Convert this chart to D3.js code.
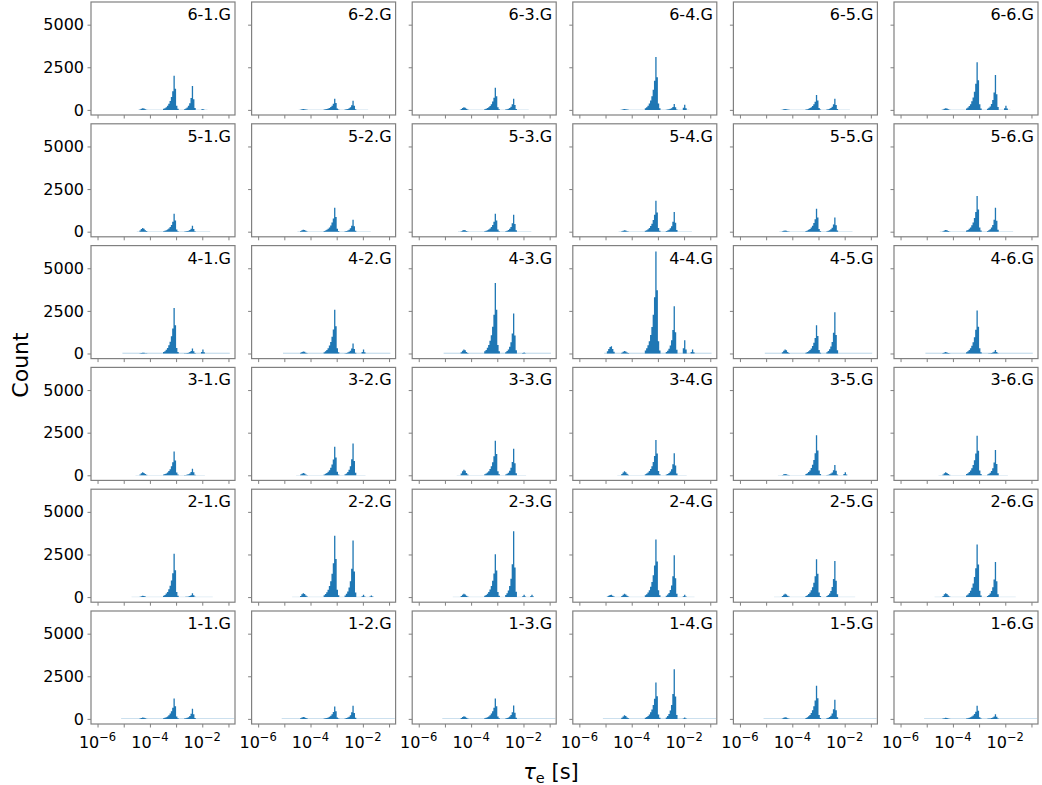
<!DOCTYPE html>
<html>
<head>
<meta charset="utf-8">
<script src="https://cdn.jsdelivr.net/npm/d3@7"></script>
<style>
  body { margin: 0; background: #fff; }
  text { font-family: "DejaVu Sans", sans-serif; }
</style>
</head>
<body>
<svg id="chart" width="1042" height="785"></svg>
<script>
// histogram bins: left edge as log10(tau_e / s), every bin 0.05 decade wide
var binLeft = [-4.95,-4.9,-4.85,-4.8,-4.75,-4.7,
  -4.4,-4.35,-4.3,-4.25,-4.2,-4.15,
  -3.5,-3.45,-3.4,-3.35,-3.3,-3.25,-3.2,-3.15,-3.1,-3.05,-3.0,-2.95,
  -2.7,-2.65,-2.6,-2.55,-2.5,-2.45,-2.4,-2.35,-2.3,
  -2.05,-2.0,-1.95,
  -1.75,-1.7,-1.65];
var binWidth = 0.05;

// counts per panel, one list per row of the grid (top row first)
var row6 = [
  [0,0,0,0,0,0, 30,70,100,80,40,15, 60,100,160,240,360,520,760,1100,2000,1240,240,60, 42,84,140,238,392,700,1400,630,112, 20,50,15, 0,0,0],
  [0,0,0,0,0,0, 15,35,50,40,20,8, 20,33,52,78,117,169,247,358,650,403,78,20, 16,32,53,90,148,265,530,239,42, 0,0,0, 0,0,0],
  [0,0,0,0,0,0, 45,105,150,120,60,23, 39,65,104,156,234,338,494,715,1300,806,156,39, 20,39,65,111,182,325,650,293,52, 0,0,0, 0,0,0],
  [0,0,0,0,0,0, 15,35,50,40,20,8, 93,155,248,372,558,806,1178,1705,3100,1922,372,93, 11,21,35,60,98,175,350,158,28, 120,300,90, 0,0,0],
  [0,0,0,0,0,0, 15,35,50,40,20,8, 26,44,70,106,158,229,334,484,880,546,106,26, 20,39,65,111,182,325,650,293,52, 0,0,0, 0,0,0],
  [0,0,0,0,0,0, 30,70,100,80,40,15, 84,140,224,336,504,728,1064,1540,2800,1736,336,84, 62,123,205,349,574,1025,2050,923,164, 100,250,75, 0,0,0]
];
var row5 = [
  [0,0,0,0,0,0, 66,154,220,176,88,33, 32,53,84,126,189,273,399,578,1050,651,126,32, 11,21,35,60,98,175,350,158,28, 0,0,0, 0,0,0],
  [0,0,0,0,0,0, 36,84,120,96,48,18, 42,70,112,168,252,364,532,770,1400,868,168,42, 21,42,70,119,196,350,700,315,56, 0,0,0, 0,0,0],
  [0,0,0,0,0,0, 30,70,100,80,40,15, 32,53,84,126,189,273,399,578,1050,651,126,32, 30,60,100,170,280,500,1000,450,80, 0,0,0, 0,0,0],
  [0,0,0,0,0,0, 24,56,80,64,32,12, 55,91,146,218,328,473,692,1001,1820,1128,218,55, 35,70,116,197,325,580,1160,522,93, 0,0,0, 0,0,0],
  [0,0,0,0,0,0, 21,49,70,56,28,11, 40,67,107,161,241,348,509,737,1340,831,161,40, 25,50,83,141,232,415,830,374,66, 0,0,0, 0,0,0],
  [0,0,0,0,0,0, 30,70,100,80,40,15, 63,105,168,252,378,546,798,1155,2100,1302,252,63, 42,85,141,240,395,705,1410,635,113, 0,0,0, 0,0,0]
];
var row4 = [
  [0,0,0,0,0,0, 15,35,50,40,20,8, 80,134,214,320,481,694,1015,1469,2670,1655,320,80, 9,17,29,49,81,145,290,131,23, 92,230,69, 0,0,0],
  [0,0,0,0,0,0, 36,84,120,96,48,18, 77,129,206,308,463,668,977,1414,2570,1593,308,77, 17,35,58,99,162,290,580,261,46, 92,230,69, 0,0,0],
  [0,0,0,0,0,0, 69,161,230,184,92,35, 124,207,330,496,743,1074,1569,2272,4130,2561,496,124, 70,140,234,398,655,1170,2340,1053,187, 24,60,18, 0,0,0],
  [129,258,387,430,258,108, 45,105,150,120,60,23, 180,300,479,719,1078,1557,2276,3295,5990,3714,719,180, 83,166,277,471,776,1385,2770,1247,222, 312,780,234, 92,230,69],
  [0,0,0,0,0,0, 69,161,230,184,92,35, 50,83,133,199,299,432,631,913,1660,1029,199,50, 73,145,242,411,678,1210,2420,1089,194, 0,0,0, 0,0,0],
  [0,0,0,0,0,0, 24,56,80,64,32,12, 76,126,202,302,454,655,958,1386,2520,1562,302,76, 6,12,20,34,56,100,200,90,16, 0,0,0, 0,0,0]
];
var row3 = [
  [0,0,0,0,0,0, 53,123,175,140,70,26, 42,70,111,167,250,361,528,765,1390,862,167,42, 12,23,39,65,108,193,385,173,31, 0,0,0, 0,0,0],
  [0,0,0,0,0,0, 39,91,130,104,52,20, 50,84,134,202,302,437,638,924,1680,1042,202,50, 56,112,187,318,524,935,1870,842,150, 0,0,0, 0,0,0],
  [0,0,0,0,0,0, 99,231,330,264,132,50, 61,101,162,243,365,527,770,1114,2025,1256,243,61, 47,94,156,265,437,780,1560,702,125, 0,0,0, 0,0,0],
  [0,0,0,0,0,0, 69,161,230,184,92,35, 62,103,165,248,372,537,785,1136,2065,1280,248,62, 39,77,129,219,361,645,1290,581,103, 0,0,0, 0,0,0],
  [0,0,0,0,0,0, 24,56,80,64,32,12, 71,118,188,282,423,611,893,1293,2350,1457,282,71, 18,36,60,102,168,300,600,270,48, 70,175,53, 0,0,0],
  [0,0,0,0,0,0, 53,123,175,140,70,26, 70,116,186,278,418,603,882,1276,2320,1438,278,70, 45,89,149,252,416,743,1485,668,119, 0,0,0, 0,0,0]
];
var row2 = [
  [0,0,0,0,0,0, 24,56,80,64,32,12, 76,127,204,305,458,662,967,1400,2545,1578,305,76, 7,14,23,39,64,115,230,104,18, 0,0,0, 0,0,0],
  [0,0,0,0,0,0, 69,161,230,184,92,35, 108,180,288,432,648,936,1368,1980,3600,2232,432,108, 100,199,332,564,930,1660,3320,1494,266, 54,135,41, 40,100,30],
  [0,0,0,0,0,0, 57,133,190,152,76,29, 75,126,201,301,452,653,954,1381,2510,1556,301,75, 116,232,386,656,1081,1930,3860,1737,309, 54,135,41, 54,135,41],
  [41,81,122,135,81,34, 57,133,190,152,76,29, 101,169,270,405,608,878,1283,1856,3375,2093,405,101, 74,147,245,417,686,1225,2450,1103,196, 54,135,41, 0,0,0],
  [0,0,0,0,0,0, 57,133,190,152,76,29, 67,111,178,266,400,577,844,1221,2220,1376,266,67, 64,127,212,360,594,1060,2120,954,170, 0,0,0, 0,0,0],
  [0,0,0,0,0,0, 69,161,230,184,92,35, 93,154,247,370,555,802,1172,1697,3085,1913,370,93, 62,124,206,350,577,1030,2060,927,165, 0,0,0, 0,0,0]
];
var row1 = [
  [0,0,0,0,0,0, 24,56,80,64,32,12, 36,60,96,143,215,311,454,657,1195,741,143,36, 18,36,60,102,168,300,600,270,48, 0,0,0, 0,0,0],
  [0,0,0,0,0,0, 35,81,115,92,46,17, 22,37,58,88,131,190,277,402,730,453,88,22, 23,46,77,131,216,385,770,347,62, 0,0,0, 0,0,0],
  [0,0,0,0,0,0, 45,105,150,120,60,23, 36,60,96,143,215,311,454,657,1195,741,143,36, 24,47,79,134,221,395,790,356,63, 0,0,0, 0,0,0],
  [0,0,0,0,0,0, 63,147,210,168,84,32, 64,107,171,257,385,556,813,1177,2140,1327,257,64, 87,175,291,495,815,1455,2910,1310,233, 30,75,23, 0,0,0],
  [0,0,0,0,0,0, 29,67,95,76,38,14, 59,98,156,234,351,507,741,1073,1950,1209,234,59, 34,67,112,190,314,560,1120,504,90, 0,0,0, 0,0,0],
  [0,0,0,0,0,0, 18,42,60,48,24,9, 23,39,62,92,139,200,293,424,770,477,92,23, 8,16,27,46,76,135,270,122,22, 0,0,0, 0,0,0]
];
var rows = [row6, row5, row4, row3, row2, row1];
var rowNames = ["6", "5", "4", "3", "2", "1"];
var colNames = ["1", "2", "3", "4", "5", "6"];

// low-count floor of every row: [from log10, to log10, count]
var baseline = [[-4.45,-1.8,15], [-4.5,-1.7,20], [-5.05,-0.95,40], [-4.55,-1.9,15], [-4.7,-1.6,15], [-5.1,-0.78,30]];

var yTicks = [0, 2500, 5000];
var xTicks = [1e-6, 1e-5, 1e-4, 1e-3, 1e-2, 1e-1];

var W = 144, H = 113, left0 = 91, top0 = 2, stepX = 160.6, stepY = 121.8;
var blue = "#1f77b4", spine = "#808080";

var svg = d3.select("#chart");
var x = d3.scaleLog().domain([Math.pow(10, -6.25), Math.pow(10, -0.75)]).range([0, W]);
var y = d3.scaleLinear().domain([-300, 6330]).range([H, 0]);

rows.forEach(function(row, r) {
  row.forEach(function(counts, c) {
    var g = svg.append("g")
      .attr("transform", "translate(" + (left0 + c * stepX) + "," + (top0 + r * stepY) + ")");

    // floor
    var b = baseline[r];
    g.append("rect")
      .attr("x", x(Math.pow(10, b[0])))
      .attr("width", x(Math.pow(10, b[1])) - x(Math.pow(10, b[0])))
      .attr("y", y(b[2]))
      .attr("height", y(0) - y(b[2]))
      .attr("fill", blue)
      .attr("opacity", 0.45);

    // bars as one path, so neighbours do not show seams
    var p = d3.path();
    counts.forEach(function(v, i) {
      if (!v) return;
      var x0 = x(Math.pow(10, binLeft[i])), x1 = x(Math.pow(10, binLeft[i] + binWidth));
      p.moveTo(x0, y(0));
      p.lineTo(x0, y(v));
      p.lineTo(x1, y(v));
      p.lineTo(x1, y(0));
      p.closePath();
    });
    g.append("path").attr("d", p.toString()).attr("fill", blue);

    // axes
    var ya = d3.axisLeft(y).tickValues(yTicks).tickSize(3.5).tickPadding(3.5)
      .tickFormat(c === 0 ? d3.format("d") : function() { return ""; });
    var yg = g.append("g").call(ya);
    var xa = d3.axisBottom(x).tickValues(xTicks).tickSize(3.5).tickFormat(function() { return ""; });
    var xg = g.append("g").attr("transform", "translate(0," + H + ")").call(xa);
    [yg, xg].forEach(function(a) {
      a.select(".domain").remove();
      a.selectAll(".tick line").attr("stroke", spine).attr("stroke-width", 1);
      a.selectAll("text").attr("font-size", 16).attr("fill", "#000").attr("font-family", "DejaVu Sans");
    });

    if (r === rows.length - 1) {
      xTicks.forEach(function(t) {
        var e = Math.round(Math.log10(t));
        if (e % 2 !== 0) return;
        var tx = g.append("text")
          .attr("x", x(t)).attr("y", H + 24)
          .attr("text-anchor", "middle")
          .attr("font-size", 16).attr("fill", "#000");
        tx.append("tspan").text("10");
        tx.append("tspan").attr("font-size", 11.5).attr("dy", -7).text("\u2212" + (-e));
      });
    }

    g.append("rect").attr("width", W).attr("height", H)
      .attr("fill", "none").attr("stroke", spine).attr("stroke-width", 1.2);

    g.append("text")
      .attr("x", W - 4).attr("y", 18)
      .attr("text-anchor", "end")
      .attr("font-size", 16).attr("fill", "#000")
      .text(rowNames[r] + "-" + colNames[c] + ".G");
  });
});

svg.append("text")
  .attr("transform", "translate(28,365) rotate(-90)")
  .attr("text-anchor", "middle")
  .attr("font-size", 22).attr("fill", "#000")
  .text("Count");

var xl = svg.append("text")
  .attr("x", 551).attr("y", 779)
  .attr("text-anchor", "middle")
  .attr("font-size", 21).attr("fill", "#000");
xl.append("tspan").attr("font-style", "italic").text("\u03c4");
xl.append("tspan").attr("font-size", 14.5).attr("dy", 4).text("e");
xl.append("tspan").attr("dy", -4).text(" [s]");
</script>
</body>
</html>
